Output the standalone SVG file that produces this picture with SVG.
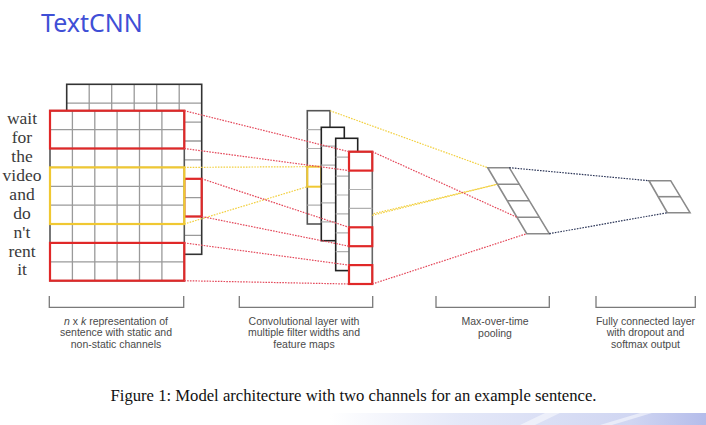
<svg xmlns="http://www.w3.org/2000/svg" width="706" height="425" viewBox="0 0 706 425">
<style>
.grid{stroke:#9a9a9a;stroke-width:1.3;fill:none}
.outer{stroke:#333;stroke-width:1.6;fill:none}
.red{stroke:#e02828;stroke-width:2.2;fill:none}
.yel{stroke:#f0c832;stroke-width:2.2;fill:none}
.dr{stroke:#e4485a;stroke-width:1.2;stroke-dasharray:1.6 1.2;fill:none}
.dy{stroke:#f2d040;stroke-width:1.2;stroke-dasharray:1.6 1.2;fill:none}
.db{stroke:#2c3658;stroke-width:1.2;stroke-dasharray:1.6 1.2;fill:none}
.word{font-family:"Liberation Serif","Times New Roman",serif;font-size:17.5px;fill:#3a3a3a;text-anchor:middle}
.lab{font-family:"Liberation Sans",Arial,sans-serif;font-size:10.5px;fill:#4a4a4a;text-anchor:middle}
.brk{stroke:#7a7a7a;stroke-width:1.3;fill:none}
.map{fill:#fff;stroke-width:1.6}
.rl{stroke:#b0b0b0;stroke-width:1.2}
.pool{stroke:#8a8a8a;stroke-width:1.6;fill:#fff}
</style>
<defs>
<linearGradient id="band" x1="0" y1="0" x2="1" y2="0">
<stop offset="0" stop-color="#ffffff"/>
<stop offset="0.35" stop-color="#e4e8f8"/>
<stop offset="0.8" stop-color="#d0d6f2"/>
<stop offset="1" stop-color="#b4bcea"/>
</linearGradient>
</defs>
<rect width="706" height="425" fill="#fff"/>
<rect x="330" y="413" width="376" height="12" fill="url(#band)"/>
<path d="M520 425 L545 413 L560 413 L535 425 Z M600 425 L640 413 L652 413 L612 425 Z" fill="#ffffff" opacity="0.5"/>

<text id="title" x="41" y="32" font-family="'Noto Sans','Open Sans',sans-serif" font-size="25" fill="#3f4fd6">TextCNN</text>

<g id="connectors-under">
<line class="dy" x1="330" y1="224" x2="497.5" y2="184.2"/>
</g>

<g id="input-matrix">
<g id="back-matrix">
<rect x="66.7" y="84.3" width="135" height="170" fill="#fff"/>
<path class="grid" d="M66.7 103.2H201.7M66.7 122.1H201.7M66.7 141H201.7M66.7 159.9H201.7M66.7 178.8H201.7M66.7 197.6H201.7M66.7 216.5H201.7M66.7 235.4H201.7M89.2 84.3V254.3M111.7 84.3V254.3M134.2 84.3V254.3M156.7 84.3V254.3M179.2 84.3V254.3"/>
<rect class="outer" x="66.7" y="84.3" width="135" height="170"/>
<rect class="red" x="184.3" y="178.8" width="17.4" height="37.7"/>
</g>
<g id="front-matrix">
<rect x="50" y="110.7" width="134.3" height="170" fill="#fff"/>
<path class="grid" d="M50 129.6H184.3M50 148.5H184.3M50 167.4H184.3M50 186.3H184.3M50 205.2H184.3M50 224H184.3M50 242.9H184.3M50 261.8H184.3M72.4 110.7V280.7M94.8 110.7V280.7M117.1 110.7V280.7M139.5 110.7V280.7M161.9 110.7V280.7"/>
<rect x="50" y="110.7" width="134.3" height="170" fill="none" stroke="#555" stroke-width="1.6"/>
<rect class="red" x="50" y="110.7" width="134.3" height="37.8"/>
<rect class="red" x="50" y="242.9" width="134.3" height="37.8"/>
<rect class="yel" x="50" y="167.4" width="134.3" height="56.6"/>
</g>
</g>

<g id="words">
<text class="word" x="22" y="124.2">wait</text>
<text class="word" x="22" y="143.1">for</text>
<text class="word" x="22" y="162">the</text>
<text class="word" x="22" y="180.9">video</text>
<text class="word" x="22" y="199.8">and</text>
<text class="word" x="22" y="218.7">do</text>
<text class="word" x="22" y="237.6">n't</text>
<text class="word" x="22" y="256.5">rent</text>
<text class="word" x="22" y="275.4">it</text>
</g>

<g id="conv-layer">
<g id="map1">
<rect class="map" x="307.3" y="110.7" width="22.7" height="113.3" stroke="#555"/>
<path class="rl" d="M307.3 129.6H330M307.3 148.5H330M307.3 205.1H330"/>
<rect x="307.3" y="166.7" width="14" height="20" fill="none" stroke="#f0c832" stroke-width="2"/>
</g>
<g id="map2">
<rect class="map" x="321.3" y="127.3" width="23" height="113.4" stroke="#222"/>
<path class="rl" d="M321.3 146.2H344.3M321.3 165.1H344.3M321.3 184H344.3M321.3 202.9H344.3M321.3 221.8H344.3"/>
</g>
<g id="map3">
<rect class="map" x="335.7" y="138.3" width="22" height="132.3" stroke="#222"/>
<path class="rl" d="M335.7 157.2H357.7M335.7 176.1H357.7M335.7 195H357.7M335.7 213.9H357.7M335.7 232.8H357.7M335.7 251.7H357.7"/>
</g>
<g id="map4">
<rect class="map" x="349" y="151.7" width="23.3" height="132.3" stroke="#666"/>
<path class="rl" d="M349 189.5H372.3M349 208.4H372.3M349 265.1H372.3"/>
<rect class="red" x="349" y="151.7" width="23.3" height="18.9"/>
<rect class="red" x="349" y="227.3" width="23.3" height="18.9"/>
<rect class="red" x="349" y="265.1" width="23.3" height="18.9"/>
</g>
</g>

<g id="pooling">
<path class="pool" d="M487.7 167.7H509.3L549.3 233.7H526.7Z"/>
<path class="pool" d="M497.5 184.2H519.3M507.3 200.7H529.3M517 217.2H539.3" fill="none"/>
</g>

<g id="fc">
<path class="pool" d="M649 180.7H670.7L690 212.7H667.3Z"/>
<path class="pool" d="M658.7 196.7H680.6" fill="none"/>
</g>

<g id="connectors">
<line class="dy" x1="184.3" y1="167.4" x2="307.3" y2="166.7"/>
<line class="dy" x1="184.3" y1="224" x2="307.3" y2="186.7"/>
<line class="dy" x1="330" y1="110.7" x2="487.7" y2="167.7"/>
<line class="dy" x1="372.3" y1="215.3" x2="497.5" y2="184.2"/>
<line class="dr" x1="184.3" y1="110.7" x2="349" y2="151.7"/>
<line class="dr" x1="184.3" y1="148.5" x2="349" y2="170.6"/>
<line class="dr" x1="201.7" y1="178.8" x2="349" y2="227.3"/>
<line class="dr" x1="201.7" y1="216.5" x2="349" y2="246.2"/>
<line class="dr" x1="184.3" y1="242.9" x2="349" y2="265.1"/>
<line class="dr" x1="184.3" y1="280.7" x2="349" y2="284"/>
<line class="dr" x1="372.3" y1="151.7" x2="516.8" y2="217.2"/>
<line class="dr" x1="372.3" y1="284" x2="526.7" y2="233.7"/>
<line class="db" x1="509.3" y1="167.7" x2="649" y2="180.7"/>
<line class="db" x1="549.3" y1="233.7" x2="667.3" y2="212.7"/>
</g>

<g id="brackets">
<path class="brk" d="M49.3 296V307.3H183.7V296"/>
<path class="brk" d="M239.3 296V307.3H372.7V296"/>
<path class="brk" d="M436 296V307.3H549.3V296"/>
<path class="brk" d="M596 296V307.3H695.3V296"/>
</g>

<g id="labels">
<text class="lab" x="116" y="324.5"><tspan font-style="italic">n</tspan> x <tspan font-style="italic">k</tspan> representation of</text>
<text class="lab" x="116" y="336.3">sentence with static and</text>
<text class="lab" x="116" y="348.1">non-static channels</text>
<text class="lab" x="304" y="324.5">Convolutional layer with</text>
<text class="lab" x="304" y="336.3">multiple filter widths and</text>
<text class="lab" x="304" y="348.1">feature maps</text>
<text class="lab" x="495" y="325.2">Max-over-time</text>
<text class="lab" x="495" y="337">pooling</text>
<text class="lab" x="645.5" y="324.5">Fully connected layer</text>
<text class="lab" x="645.5" y="336.3">with dropout and</text>
<text class="lab" x="645.5" y="348.1">softmax output</text>
</g>

<text id="caption" x="110.5" y="400.5" font-family="'Liberation Serif','Times New Roman',serif" font-size="17.3" fill="#111" textLength="486" lengthAdjust="spacingAndGlyphs">Figure 1: Model architecture with two channels for an example sentence.</text>
</svg>
